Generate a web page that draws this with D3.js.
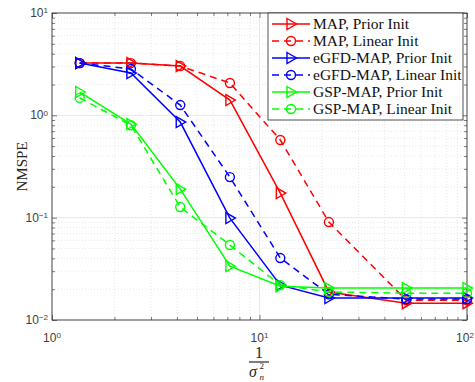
<!DOCTYPE html>
<html>
<head>
<meta charset="utf-8">
<script src="https://cdn.jsdelivr.net/npm/d3@7"></script>
<style>
  body { margin: 0; background: #fff; }
  svg { display: block; }
</style>
</head>
<body>
<svg id="chart" width="475" height="382"></svg>
<script>

// data
const snr = [1.36, 2.4, 4.15, 7.2, 12.6, 21.6, 51, 100];

const mapPrior   = [3.24, 3.24, 3.03, 1.41, 0.174, 0.0188, 0.0146, 0.0146];
const mapLinear  = [3.24, 3.24, 3.03, 2.07, 0.574, 0.0906, 0.0156, 0.0156];
const egfdPrior  = [3.24, 2.59, 0.86, 0.099, 0.0219, 0.0164, 0.0164, 0.0164];
const egfdLinear = [3.24, 2.84, 1.26, 0.249, 0.0403, 0.0178, 0.0160, 0.0160];
const gspPrior   = [1.69, 0.82, 0.19, 0.0336, 0.0214, 0.0205, 0.0205, 0.0205];
const gspLinear  = [1.48, 0.80, 0.127, 0.054, 0.0219, 0.0188, 0.0183, 0.0183];

const seriesNames = ["MAP, Prior Init", "MAP, Linear Init", "eGFD-MAP, Prior Init",
                     "eGFD-MAP, Linear Init", "GSP-MAP, Prior Init", "GSP-MAP, Linear Init"];
const seriesValues = [mapPrior, mapLinear, egfdPrior, egfdLinear, gspPrior, gspLinear];
const seriesColors = ["#ff0000", "#ff0000", "#0000ff", "#0000ff", "#00ff00", "#00ff00"];
const seriesMarker = ["tri", "circ", "tri", "circ", "tri", "circ"];

const xTicks = [1, 10, 100];
const yTicks = [0.01, 0.1, 1, 10];

//
// SETUP
//

const margin = {left: 52, top: 13, right: 8, bottom: 62};
const W = 475, H = 382;
const innerW = W - margin.left - margin.right;
const innerH = H - margin.top - margin.bottom;

const svg = d3.select("#chart");
const g = svg.append("g").attr("transform", `translate(${margin.left}, ${margin.top})`);

const x = d3.scaleLog().domain([1, 100]).range([0, innerW]);
const y = d3.scaleLog().domain([0.01, 10]).range([innerH, 0]);

//
// GRID
//

const minorX = [], minorY = [];
for (let d = 1; d < 100; d *= 10) for (let k = 2; k < 10; k++) minorX.push(d * k);
for (let d = 0.01; d < 10; d *= 10) for (let k = 2; k < 10; k++) minorY.push(d * k);

const grid = g.append("g").attr("class", "grid");

grid.selectAll(".minx").data(minorX).enter().append("line")
    .attr("x1", d => x(d)).attr("x2", d => x(d))
    .attr("y1", 0).attr("y2", innerH)
    .style("stroke", "#d6d6d6").style("stroke-width", 0.6)
    .style("stroke-dasharray", "1,2");

grid.selectAll(".miny").data(minorY).enter().append("line")
    .attr("y1", d => y(d)).attr("y2", d => y(d))
    .attr("x1", 0).attr("x2", innerW)
    .style("stroke", "#d6d6d6").style("stroke-width", 0.6)
    .style("stroke-dasharray", "1,2");

grid.selectAll(".majx").data(xTicks).enter().append("line")
    .attr("x1", d => x(d)).attr("x2", d => x(d))
    .attr("y1", 0).attr("y2", innerH)
    .style("stroke", "#e2e2e2").style("stroke-width", 0.8);

grid.selectAll(".majy").data(yTicks).enter().append("line")
    .attr("y1", d => y(d)).attr("y2", d => y(d))
    .attr("x1", 0).attr("x2", innerW)
    .style("stroke", "#e2e2e2").style("stroke-width", 0.8);

//
// AXES (ticks inside, box on)
//

const axisColor = "#262626";

const tickAxis = (axis, transform) => {
    const a = g.append("g").attr("transform", transform).call(axis);
    a.select(".domain").remove();
    a.selectAll("line").style("stroke", axisColor).style("stroke-width", 0.6);
    a.selectAll("text").remove();
    return a;
};

tickAxis(d3.axisBottom(x).tickValues(minorX).tickSize(-3), `translate(0, ${innerH})`);
tickAxis(d3.axisBottom(x).tickValues(xTicks).tickSize(-5), `translate(0, ${innerH})`);
tickAxis(d3.axisTop(x).tickValues(minorX).tickSize(-3), `translate(0, 0)`);
tickAxis(d3.axisTop(x).tickValues(xTicks).tickSize(-5), `translate(0, 0)`);
tickAxis(d3.axisLeft(y).tickValues(minorY).tickSize(-3), `translate(0, 0)`);
tickAxis(d3.axisLeft(y).tickValues(yTicks).tickSize(-5), `translate(0, 0)`);
tickAxis(d3.axisRight(y).tickValues(minorY).tickSize(-3), `translate(${innerW}, 0)`);
tickAxis(d3.axisRight(y).tickValues(yTicks).tickSize(-5), `translate(${innerW}, 0)`);

g.append("rect")
    .attr("width", innerW).attr("height", innerH)
    .style("fill", "none").style("stroke", axisColor).style("stroke-width", 0.8);

// tick labels 10^k
const expLabel = (sel, v) => {
    const e = Math.round(Math.log10(v));
    sel.append("tspan").text("10");
    sel.append("tspan").attr("dy", "-0.45em").style("font-size", "8px")
        .text(e < 0 ? "\u2212" + (-e) : e);
};

g.append("g").selectAll("text").data(xTicks).enter().append("text")
    .attr("x", d => Math.min(x(d), W - margin.left - 10)).attr("y", innerH + 22)
    .style("text-anchor", "middle")
    .style("font-family", "Liberation Sans, Arial, sans-serif")
    .style("font-size", "12px").style("fill", "#404040")
    .each(function (d) { expLabel(d3.select(this), d); });

g.append("g").selectAll("text").data(yTicks).enter().append("text")
    .attr("x", -4).attr("y", d => y(d) + 4)
    .style("text-anchor", "end")
    .style("font-family", "Liberation Sans, Arial, sans-serif")
    .style("font-size", "12px").style("fill", "#404040")
    .each(function (d) { expLabel(d3.select(this), d); });

// axis labels
svg.append("text")
    .attr("transform", `translate(27, ${margin.top + innerH / 2}) rotate(-90)`)
    .style("text-anchor", "middle")
    .style("font-family", "Liberation Serif, serif")
    .style("font-size", "15px").style("fill", "#262626")
    .text("NMSPE");

const fx = 259;
const labelText = (tx, ty, size, str, italic) => svg.append("text")
    .attr("x", tx).attr("y", ty)
    .style("font-family", "Liberation Serif, serif")
    .style("font-size", size + "px").style("fill", "#262626")
    .style("font-style", italic ? "italic" : "normal")
    .text(str);

labelText(fx, 358, 16, "1", false).style("text-anchor", "middle");
svg.append("line")
    .attr("x1", fx - 10).attr("x2", fx + 10)
    .attr("y1", 362).attr("y2", 362)
    .style("stroke", "#262626").style("stroke-width", 1.2);
labelText(fx - 10, 377, 16, "\u03c3", true);
labelText(fx + 0.5, 369, 9, "2", false);
labelText(fx + 0.5, 380, 9, "n", true);

//
// SERIES
//

const line = d3.line().x((d, i) => x(snr[i])).y(d => y(d));

const drawMarker = (sel, type, color) => {
    if (type === "tri") {
        sel.append("path")
            .attr("d", "M-4,-5.5 L5.5,0 L-4,5.5 Z")
            .style("fill", "none").style("stroke", color).style("stroke-width", 1.4);
    } else {
        sel.append("circle").attr("r", 4.5)
            .style("fill", "none").style("stroke", color).style("stroke-width", 1.4);
    }
};

const plot = g.append("g").attr("id", "series");

seriesValues.forEach((vals, s) => {
    const dashed = seriesMarker[s] === "circ";
    plot.append("path")
        .datum(vals)
        .attr("d", line)
        .style("fill", "none")
        .style("stroke", seriesColors[s])
        .style("stroke-width", 1.5)
        .style("stroke-dasharray", dashed ? "7,5" : null);

    plot.append("g").selectAll("g").data(vals).enter().append("g")
        .attr("transform", (d, i) => `translate(${x(snr[i])}, ${y(d)})`)
        .each(function () { drawMarker(d3.select(this), seriesMarker[s], seriesColors[s]); });
});

//
// LEGEND
//

const lg = svg.append("g").attr("transform", "translate(268, 13)");
lg.append("rect").attr("width", 195).attr("height", 107)
    .style("fill", "#fff").style("stroke", "#262626").style("stroke-width", 0.8);

seriesNames.forEach((name, s) => {
    const yy = 11 + s * 17;
    const dashed = seriesMarker[s] === "circ";
    lg.append("line")
        .attr("x1", 4).attr("x2", 42).attr("y1", yy).attr("y2", yy)
        .style("stroke", seriesColors[s]).style("stroke-width", 1.5)
        .style("stroke-dasharray", dashed ? "7,5" : null);
    const m = lg.append("g").attr("transform", `translate(23, ${yy})`);
    drawMarker(m, seriesMarker[s], seriesColors[s]);
    lg.append("text")
        .attr("x", 45).attr("y", yy + 5)
        .style("font-family", "Liberation Serif, serif")
        .style("font-size", "15.5px").style("fill", "#111")
        .text(name);
});

</script>
</body>
</html>
